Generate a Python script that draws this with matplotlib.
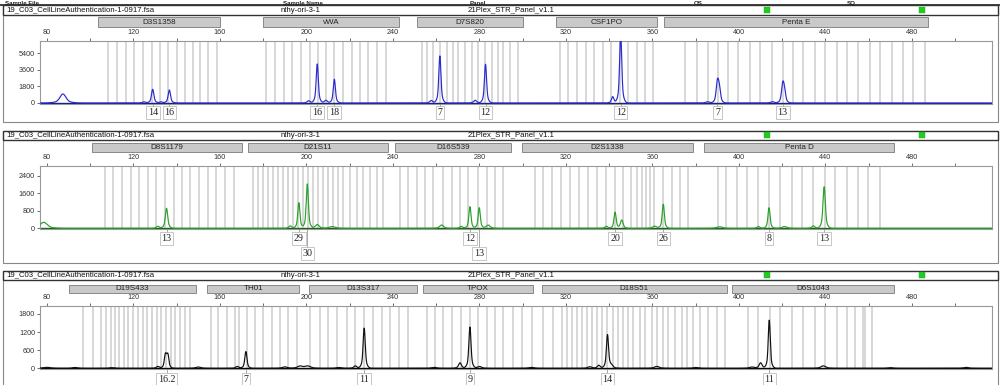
import numpy as np
import matplotlib
matplotlib.use("Agg")
import matplotlib.pyplot as plt
from matplotlib import transforms
from matplotlib.patches import Rectangle
from matplotlib.lines import Line2D

W, H = 1000, 385
SANS = "Liberation Sans"
SERIF = "Liberation Serif"

# ---------------- data ----------------
file_name = "19_C03_CellLineAuthentication-1-0917.fsa"
sample_name = "nthy-ori-3-1"
panel_name = "21Plex_STR_Panel_v1.1"
header_labels = ["Sample File", "Sample Name", "Panel", "OS", "SQ"]

x_ticks_major = [80, 120, 160, 200, 240, 280, 320, 360, 400, 440, 480]
x_ticks_minor = [100, 140, 180, 220, 260, 300, 340, 380, 420, 460, 500]

# panel 1 (blue dye)
p1_markers = ["D3S1358", "vWA", "D7S820", "CSF1PO", "Penta E"]
p1_marker_start = [103.6, 179.9, 251.0, 315.4, 365.3]
p1_marker_end = [160.0, 242.8, 300.0, 362.0, 487.4]
p1_bins = [108.2, 112.4, 116.5, 120.2, 124.4, 128.6, 132.3, 136.0, 140.1, 143.8, 147.5, 150.8, 154.5, 158.6,
           181.3, 185.4, 189.6, 193.3, 197.5, 201.6, 205.3, 209.0, 212.7, 216.9, 221.0, 224.7, 228.4, 232.6, 236.7,
           253.4, 255.7, 258.5, 261.7, 265.0, 267.7, 270.1, 273.3, 276.5, 279.3, 282.5, 285.8, 288.6, 290.9, 294.1, 297.8,
           317.2, 320.9, 325.1, 329.2, 332.9, 337.1, 340.8, 345.0, 348.7, 352.8, 356.5, 360.2,
           375.0, 380.6, 385.7, 390.3, 394.9, 399.5, 405.1, 409.7, 415.3, 420.3, 425.0, 429.6, 435.1, 439.8, 445.3,
           449.9, 455.0, 460.6, 465.2, 470.8, 475.8, 480.5, 486.0]
p1_peak_pos = [87.4, 124.9, 128.9, 132.8, 136.6, 201.0, 205.0, 209.0, 212.9, 257.7, 261.7, 278.0, 282.8,
               341.6, 345.3, 385.5, 390.0, 390.9, 415.5, 420.2, 421.0]
p1_peak_h = [980, 130, 1490, 130, 1420, 250, 4250, 300, 2580, 280, 5130, 300, 4220,
             690, 7600, 140, 2150, 1500, 140, 1850, 1200]
p1_peak_w = [1.3, 0.6, 0.5, 0.6, 0.5, 0.6, 0.45, 0.6, 0.45, 0.6, 0.45, 0.6, 0.45,
             0.5, 0.45, 0.7, 0.5, 0.5, 0.7, 0.5, 0.5]
p1_alleles = ["14", "16", "16", "18", "7", "12", "12", "7", "13"]
p1_allele_pos = [128.9, 136.6, 205.0, 212.9, 261.7, 282.8, 345.3, 390.0, 420.2]
p1_allele_row = [0, 0, 0, 0, 0, 0, 0, 0, 0]

# panel 2 (green dye)
p2_markers = ["D8S1179", "D21S11", "D16S539", "D2S1338", "Penta D"]
p2_marker_start = [101.0, 173.0, 241.0, 299.5, 383.8]
p2_marker_end = [170.0, 237.7, 294.6, 378.6, 471.7]
p2_bins = [106.8, 110.7, 114.6, 118.8, 122.8, 126.7, 130.5, 134.7, 138.6, 142.4, 146.2, 150.4, 154.3, 158.3, 162.5, 166.4,
           175.3, 177.6, 179.9, 182.2, 184.5, 186.8, 189.1, 191.4, 193.8, 196.1, 198.4, 200.7, 203.0, 205.3, 207.6,
           209.9, 212.3, 214.6, 216.9, 220.1, 223.4, 226.1, 229.4, 232.6, 235.4,
           243.2, 247.1, 250.9, 254.8, 258.6, 263.2, 267.1, 270.9, 274.8, 279.4, 283.3, 287.2, 291.0,
           305.7, 309.5, 313.4, 317.7, 321.9, 326.0, 330.3, 334.5, 338.5, 342.7, 346.5, 350.0, 353.0, 355.1, 357.1,
           358.9, 360.8, 365.0, 368.9, 372.7, 376.6,
           390.4, 394.0, 398.9, 403.6, 408.9, 414.0, 418.9, 424.4, 429.0, 434.4, 439.8, 444.4, 449.8, 455.2, 459.8, 465.2]
p2_peak_pos = [78.5, 131.3, 135.3, 192.5, 196.5, 200.4, 205.0, 212.0, 262.5, 271.6, 275.6, 279.9, 284.0,
               338.7, 342.7, 345.8, 361.0, 365.0, 391.0, 409.0, 413.9, 421.0, 434.4, 439.4]
p2_peak_h = [275, 90, 914, 110, 1170, 2025, 170, 80, 150, 90, 990, 940, 150,
             90, 731, 380, 100, 1097, 70, 80, 940, 80, 110, 1900]
p2_peak_w = [1.5, 0.6, 0.5, 0.6, 0.45, 0.45, 0.8, 1.2, 0.8, 0.6, 0.45, 0.45, 0.8,
             0.6, 0.45, 0.55, 0.8, 0.45, 1.2, 0.6, 0.45, 1.0, 0.6, 0.5]
p2_alleles = ["13", "29", "30", "12", "13", "20", "26", "8", "13"]
p2_allele_pos = [135.3, 196.5, 200.4, 275.6, 279.9, 342.7, 365.0, 413.9, 439.4]
p2_allele_row = [0, 0, 1, 0, 1, 0, 0, 0, 0]

# panel 3 (black dye)
p3_markers = ["D19S433", "TH01", "D13S317", "TPOX", "D18S51", "D6S1043"]
p3_marker_start = [90.2, 154.0, 201.3, 253.7, 308.7, 396.6]
p3_marker_end = [148.9, 196.7, 251.0, 304.9, 394.6, 471.8]
p3_bins = [96.8, 101.1, 104.8, 107.3, 109.4, 111.4, 113.4, 115.6, 117.6, 119.9, 122.2, 124.3, 126.4, 128.4,
           130.7, 132.7, 135.0, 137.2, 139.2, 141.5, 143.8, 146.1,
           155.7, 159.2, 163.1, 166.9, 168.9, 172.3, 176.2, 180.0, 183.9, 187.7, 191.6, 195.5,
           201.6, 206.2, 210.1, 214.2, 218.6, 222.4, 226.6, 230.6, 234.8, 238.6, 242.9, 247.1,
           255.6, 259.4, 263.3, 267.1, 271.3, 275.6, 279.4, 283.3, 287.2, 291.0, 295.6, 299.5, 304.1,
           309.5, 314.1, 318.0, 320.3, 322.6, 324.9, 327.3, 329.6, 331.9, 334.2, 336.5, 338.8, 341.9, 344.2,
           346.5, 348.8, 351.1, 354.2, 356.5, 359.6, 361.9, 365.0, 367.3, 370.4, 373.5, 375.8, 378.9, 382.0,
           385.8, 389.7, 393.5,
           404.3, 408.9, 414.3, 418.9, 424.4, 429.7, 435.1, 439.8, 445.2, 449.8, 453.6, 457.5, 458.2, 461.4]
p3_peak_pos = [80.0, 93.0, 110.0, 131.3, 134.8, 135.9, 150.0, 168.0, 172.0, 190.0, 197.0, 200.5,
               215.0, 222.6, 226.7, 259.0, 271.0, 275.6, 280.0, 304.0, 331.0, 335.2, 339.2, 341.0,
               362.0, 380.0, 406.0, 410.0, 414.0, 439.0, 470.0, 505.0]
p3_peak_h = [30, 25, 20, 60, 440, 430, 40, 60, 555, 45, 70, 75,
             25, 80, 1330, 30, 180, 1366, 60, 30, 50, 100, 1100, 90,
             60, 25, 40, 180, 1595, 80, 20, 30]
p3_peak_w = [1.5, 1.0, 1.0, 0.6, 0.45, 0.45, 1.0, 0.6, 0.45, 1.0, 1.0, 1.2,
             1.0, 0.6, 0.45, 1.0, 0.6, 0.45, 0.8, 1.0, 0.8, 0.6, 0.45, 0.8,
             1.0, 1.0, 1.0, 0.6, 0.42, 1.0, 1.0, 1.0]
p3_alleles = ["16.2", "7", "11", "9", "14", "11"]
p3_allele_pos = [135.3, 172.0, 226.7, 275.6, 339.2, 414.0]
p3_allele_row = [0, 0, 0, 0, 0, 0]

# ---------------- layout (pixels, y from top) ----------------
panels = [
    dict(top=5.5, box_bottom=122, info=(5.5, 15), bar=(17.3, 26.7), plot=(40.7, 103.5),
         ylim=(-55, 6790), yticks=[0, 1800, 3600, 5400], color="#2a2ad0", base="#1a1a80",
         markers=p1_markers, ms=p1_marker_start, me=p1_marker_end, bins=p1_bins,
         pp=p1_peak_pos, ph=p1_peak_h, pw=p1_peak_w,
         al=p1_alleles, ap=p1_allele_pos, ar=p1_allele_row, rows=(112.5, 127)),
    dict(top=131, box_bottom=262.5, info=(131, 139.5), bar=(143.3, 152.3), plot=(165.7, 229),
         ylim=(-32, 2860), yticks=[0, 800, 1600, 2400], color="#2aa02a", base="#1a601a",
         markers=p2_markers, ms=p2_marker_start, me=p2_marker_end, bins=p2_bins,
         pp=p2_peak_pos, ph=p2_peak_h, pw=p2_peak_w,
         al=p2_alleles, ap=p2_allele_pos, ar=p2_allele_row, rows=(238.5, 253.5)),
    dict(top=271, box_bottom=None, info=(271, 279.5), bar=(285, 292.7), plot=(305.7, 369),
         ylim=(-25, 2075), yticks=[0, 600, 1200, 1800], color="#111111", base="#000000",
         markers=p3_markers, ms=p3_marker_start, me=p3_marker_end, bins=p3_bins,
         pp=p3_peak_pos, ph=p3_peak_h, pw=p3_peak_w,
         al=p3_alleles, ap=p3_allele_pos, ar=p3_allele_row, rows=(379, 393)),
]

PX_L, PX_R = 40, 992
XLIM = (76.8, 517.0)

fig = plt.figure(figsize=(W / 100, H / 100), dpi=100)
fig.patch.set_facecolor("white")


def fy(y):
    return 1 - y / H


def fx(x):
    return x / W


def frect(x0, y0, x1, y1, **kw):
    r = Rectangle((fx(x0), fy(y1)), fx(x1) - fx(x0), fy(y0) - fy(y1), transform=fig.transFigure, **kw)
    fig.add_artist(r)


# header strip
for lab, xx in zip(header_labels, [5, 283, 470, 694, 847]):
    fig.text(fx(xx), fy(4.6), lab, fontsize=4.4, family=SANS, color="#222222", va="baseline", ha="left",
             fontweight="bold")
fig.add_artist(Line2D([0, 1], [fy(5.2), fy(5.2)], transform=fig.transFigure, color="#333333", lw=1.3))

xgrid = np.arange(XLIM[0], XLIM[1], 0.04)

for P in panels:
    # outer box
    bb = P["box_bottom"] if P["box_bottom"] is not None else H + 5
    frect(2.5, P["top"], 997.5, bb, fill=False, edgecolor="#888888", lw=0.8)
    # info row
    frect(2.5, P["info"][0], 997.5, P["info"][1], facecolor="white", edgecolor="#333333", lw=1.0)
    yc = (P["info"][0] + P["info"][1]) / 2
    fig.text(fx(6), fy(yc), file_name, fontsize=5.6, family=SANS, va="center", ha="left", color="#111111")
    fig.text(fx(281), fy(yc), sample_name, fontsize=5.6, family=SANS, va="center", ha="left", color="#111111")
    fig.text(fx(468), fy(yc), panel_name, fontsize=5.6, family=SANS, va="center", ha="left", color="#111111")
    for gx in (767, 922):
        frect(gx - 3, yc - 3, gx + 3, yc + 3, facecolor="#22cc22", edgecolor="#22aa22", lw=0.3)

    y0, y1 = P["plot"]
    ax = fig.add_axes([fx(PX_L), fy(y1), fx(PX_R) - fx(PX_L), (y1 - y0) / H])
    ax.set_xlim(*XLIM)
    ax.set_ylim(*P["ylim"])
    for s in ax.spines.values():
        s.set_color("#999999")
        s.set_linewidth(0.8)
    ax.xaxis.tick_top()
    ax.set_xticks(x_ticks_major)
    ax.set_xticks(x_ticks_minor, minor=True)
    ax.tick_params(axis="x", which="both", direction="out", length=2.5, width=0.6, colors="#555555",
                   labelsize=5.2, pad=0.8)
    ax.tick_params(axis="x", which="major", labelcolor="#333333")
    ax.set_yticks(P["yticks"])
    ax.tick_params(axis="y", direction="out", length=2.5, width=0.6, colors="#555555", labelsize=5.2,
                   pad=1.0, labelcolor="#333333")
    for lab in ax.get_xticklabels() + ax.get_yticklabels():
        lab.set_family(SANS)

    for b in P["bins"]:
        ax.axvline(b, color="#cdcdcd", lw=1.1, zorder=0)

    trace = np.zeros_like(xgrid)
    for p, h, w in zip(P["pp"], P["ph"], P["pw"]):
        trace += 0.8 * h * np.exp(-0.5 * ((xgrid - p) / w) ** 2)
        trace += 0.2 * h * np.exp(-0.5 * ((xgrid - p) / (w * 2.4)) ** 2)
    ax.plot(xgrid, trace, color=P["color"], lw=0.85, zorder=3)
    ax.axhline(0, color=P["base"], lw=1.0, zorder=2)

    blend = transforms.blended_transform_factory(ax.transData, fig.transFigure)
    # marker bars
    b0, b1 = P["bar"]
    for name, s, e in zip(P["markers"], P["ms"], P["me"]):
        r = Rectangle((s, fy(b1)), e - s, fy(b0) - fy(b1), transform=blend, facecolor="#c9c9c9",
                      edgecolor="#7a7a7a", lw=0.6, clip_on=False)
        fig.add_artist(r)
        fig.text((s + e) / 2, fy((b0 + b1) / 2), name, transform=blend, fontsize=5.8, family=SANS,
                 ha="center", va="center", color="#222222")

    # allele labels
    for txt, pos, row in zip(P["al"], P["ap"], P["ar"]):
        ly = P["rows"][row]
        fig.add_artist(Line2D([pos, pos], [fy(y1), fy(ly - 5.5)], transform=blend, color="#888888", lw=0.5))
        fig.text(pos, fy(ly), txt, transform=blend, fontsize=7.2, family=SERIF, ha="center", va="center",
                 color="#222222",
                 bbox=dict(boxstyle="square,pad=0.18", facecolor="white", edgecolor="#b0b0b0", lw=0.5))

fig.savefig("out.png", dpi=100, facecolor="white")
